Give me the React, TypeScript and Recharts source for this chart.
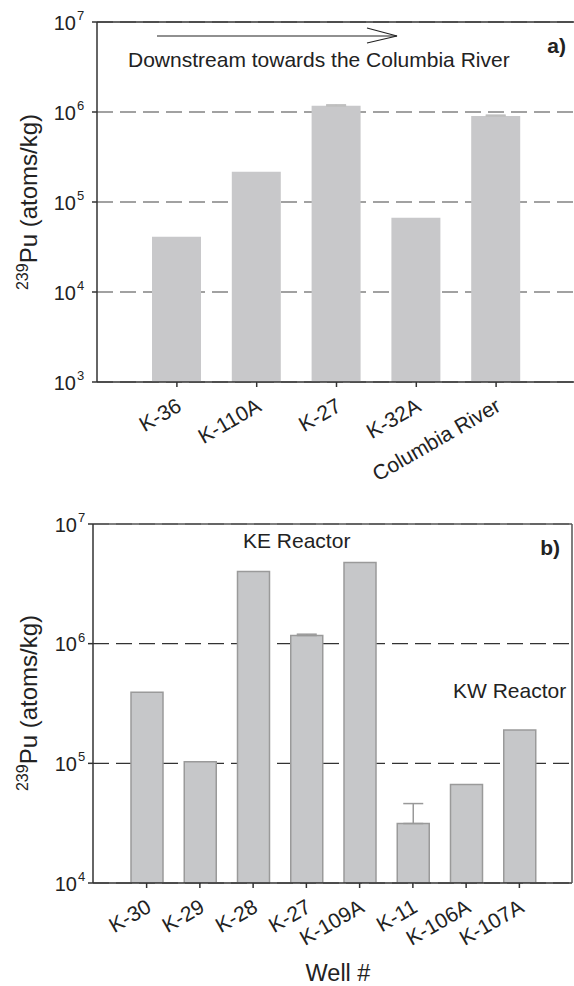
import React from 'react';
import { BarChart, Bar, XAxis, YAxis, CartesianGrid, ReferenceLine, ErrorBar } from 'recharts';

const FONT = '"Liberation Sans", Arial, Helvetica, sans-serif';

// panel a) downstream wells
const wellsA = ['K-36', 'K-110A', 'K-27', 'K-32A', 'Columbia River'];
const puA = [41000, 217000, 1170000, 67000, 903000];
const errA: (number[] | null)[] = [null, null, [0, 30000], null, [0, 20000]];
const ticksA = [1e3, 1e4, 1e5, 1e6, 1e7];

// panel b) wells near the reactors
const wellsB = ['K-30', 'K-29', 'K-28', 'K-27', 'K-109A', 'K-11', 'K-106A', 'K-107A'];
const puB = [392000, 103000, 4000000, 1170000, 4760000, 31400, 66600, 190000];
const errB: (number[] | null)[] = [null, null, null, [0, 30000], null, [0, 14700], null, null];
const ticksB = [1e4, 1e5, 1e6, 1e7];

const dataA = wellsA.map((well, i) => ({ well, pu: puA[i], err: errA[i] }));
const dataB = wellsB.map((well, i) => ({ well, pu: puB[i], err: errB[i] }));

function PowTick(props: any) {
  const { x, y, payload, gap } = props;
  const exp = Math.round(Math.log10(payload.value));
  return (
    <g>
      <text x={x - gap} y={y + 7.5} textAnchor="end" fontSize={20} fill="#222" fontFamily={FONT}>10</text>
      <text x={x - gap + 1} y={y - 2} fontSize={13} fill="#222" fontFamily={FONT}>{exp}</text>
    </g>
  );
}

function SlantTick(props: any) {
  const { x, y, payload } = props;
  return (
    <text
      transform={`translate(${x + 6},${y + 23}) rotate(-30)`}
      textAnchor="end"
      fontSize={21}
      fill="#222"
      fontFamily={FONT}
    >
      {payload.value}
    </text>
  );
}

function PuLabel({ cy }: { cy: number }) {
  return (
    <text transform={`translate(37,${cy}) rotate(-90)`} textAnchor="middle" fill="#222" fontFamily={FONT}>
      <tspan fontSize={16} dy={-9}>239</tspan>
      <tspan fontSize={24} dy={9}>Pu (atoms/kg)</tspan>
    </text>
  );
}

const axisLine = { stroke: '#333', strokeWidth: 1.5 };

export default function App() {
  return (
    <div style={{ position: 'absolute', left: 0, top: 0, width: 574, height: 986, background: '#fff' }}>
      <div style={{ position: 'absolute', left: 0, top: 0 }}>
        <BarChart width={574} height={500} data={dataA} margin={{ top: 22, right: 0, bottom: 58, left: 0 }}>
          <CartesianGrid vertical={false} strokeDasharray="16 7" stroke="#444" strokeWidth={1.2} />
          <XAxis
            dataKey="well"
            interval={0}
            height={60}
            padding={{ left: 40, right: 38 }}
            axisLine={axisLine}
            tickLine={{ stroke: '#333', strokeWidth: 1.5 }}
            tickSize={5}
            tickMargin={0}
            tick={<SlantTick />}
          />
          <YAxis
            scale="log"
            domain={[1e3, 1e7]}
            ticks={ticksA}
            allowDataOverflow
            width={97}
            axisLine={axisLine}
            tickLine={{ stroke: '#333', strokeWidth: 1.5 }}
            tickSize={5}
            tickMargin={0}
            tick={<PowTick gap={16} />}
          />
          <Bar dataKey="pu" fill="#c8c8ca" barSize={49} isAnimationActive={false}>
            <ErrorBar dataKey="err" width={10} stroke="#bdbdbd" strokeWidth={1.5} direction="y" />
          </Bar>
          <ReferenceLine y={1e7} stroke="#333" strokeWidth={1.5} />
        </BarChart>
      </div>

      <div style={{ position: 'absolute', left: 0, top: 480 }}>
        <BarChart width={574} height={506} data={dataB} margin={{ top: 44, right: 0, bottom: 43, left: 0 }}>
          <CartesianGrid vertical={false} strokeDasharray="16 7" stroke="#333" strokeWidth={1.2} />
          <XAxis
            dataKey="well"
            interval={0}
            height={60}
            padding={{ left: 27, right: 26 }}
            axisLine={axisLine}
            tickLine={{ stroke: '#333', strokeWidth: 1.5 }}
            tickSize={5}
            tickMargin={0}
            tick={<SlantTick />}
          />
          <YAxis
            scale="log"
            domain={[1e4, 1e7]}
            ticks={ticksB}
            allowDataOverflow
            width={93}
            axisLine={axisLine}
            tickLine={{ stroke: '#333', strokeWidth: 1.5 }}
            tickSize={5}
            tickMargin={0}
            tick={<PowTick gap={11} />}
          />
          <YAxis
            yAxisId="frame"
            orientation="right"
            scale="log"
            domain={[1e4, 1e7]}
            allowDataOverflow
            width={2}
            tick={false}
            tickLine={false}
            axisLine={{ stroke: '#555', strokeWidth: 1.5 }}
          />
          <Bar dataKey="pu" fill="#c6c7c9" stroke="#9a9a9a" strokeWidth={1.5} barSize={32} isAnimationActive={false}>
            <ErrorBar dataKey="err" width={10} stroke="#999" strokeWidth={1.5} direction="y" />
          </Bar>
          <ReferenceLine y={1e7} stroke="#555" strokeWidth={1.5} />
        </BarChart>
      </div>

      <svg
        width={574}
        height={986}
        style={{ position: 'absolute', left: 0, top: 0, pointerEvents: 'none' }}
      >
        <line x1={157} y1={36} x2={397} y2={36} stroke="#222" strokeWidth={1.2} />
        <polyline points="367,28 397,36 367,43" fill="none" stroke="#222" strokeWidth={1.2} />
        <text x={128} y={67} fontSize={21} fill="#222" fontFamily={FONT}>
          Downstream towards the Columbia River
        </text>
        <text x={566} y={53} textAnchor="end" fontSize={21} fontWeight="bold" fill="#222" fontFamily={FONT}>a)</text>
        <PuLabel cy={202} />

        <text x={243} y={548} fontSize={21} fill="#222" fontFamily={FONT}>KE Reactor</text>
        <text x={560} y={555} textAnchor="end" fontSize={21} fontWeight="bold" fill="#222" fontFamily={FONT}>b)</text>
        <text x={453} y={698} fontSize={21} fill="#222" fontFamily={FONT}>KW Reactor</text>
        <PuLabel cy={703} />
        <text x={338} y={981} textAnchor="middle" fontSize={23.5} fill="#222" fontFamily={FONT}>Well #</text>
      </svg>
    </div>
  );
}
